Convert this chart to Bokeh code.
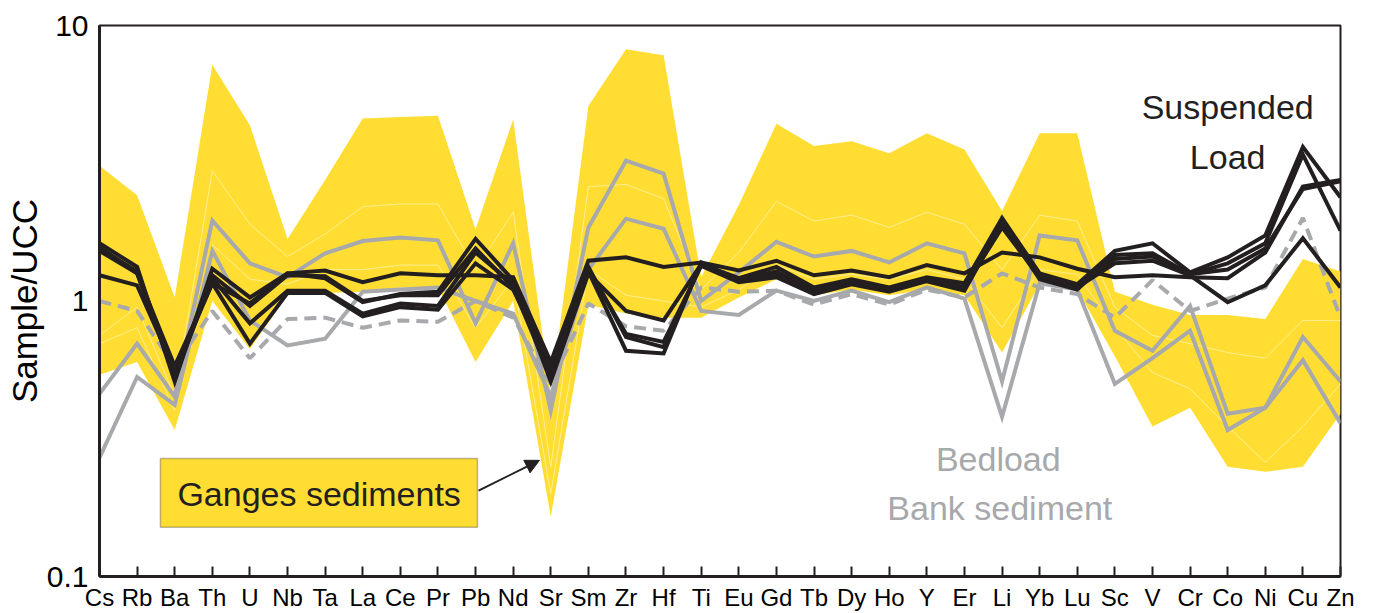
from bokeh.plotting import figure
from bokeh.models import FixedTicker, Label, BoxAnnotation, Arrow, NormalHead, Range1d
from bokeh.embed import file_html
from bokeh.resources import INLINE

elements = ["Cs", "Rb", "Ba", "Th", "U", "Nb", "Ta", "La", "Ce", "Pr", "Pb", "Nd", "Sr", "Sm",
            "Zr", "Hf", "Ti", "Eu", "Gd", "Tb", "Dy", "Ho", "Y", "Er", "Li", "Yb", "Lu", "Sc",
            "V", "Cr", "Co", "Ni", "Cu", "Zn"]

# Ganges sediments envelope (Sample/UCC)
ganges_max = [3.1, 2.42, 1.03, 7.2, 4.34, 1.68, 2.75, 4.6, 4.65, 4.7, 1.82, 4.56, 0.45, 5.1,
              8.2, 7.8, 1.22, 2.23, 4.4, 3.65, 3.8, 3.44, 4.06, 3.55, 2.12, 4.06, 4.06, 1.08,
              0.97, 0.89, 0.89, 0.86, 1.42, 1.28]
ganges_min = [0.54, 0.6, 0.34, 1.0, 0.67, 1.05, 1.07, 1.08, 1.12, 1.12, 0.6, 1.0, 0.165, 0.97,
              0.9, 0.87, 0.87, 1.03, 1.2, 1.05, 1.1, 1.05, 1.1, 1.05, 0.65, 1.15, 1.1, 0.63,
              0.35, 0.41, 0.25, 0.24, 0.25, 0.39]
ganges_inner_1 = [0.75, 0.95, 0.45, 2.97, 1.9, 1.45, 1.75, 2.2, 2.25, 2.25, 1.3, 2.1, 0.25, 2.6,
                  2.65, 2.35, 1.1, 1.5, 2.3, 1.95, 2.05, 1.85, 2.1, 1.9, 1.3, 2.05, 1.95, 0.95,
                  0.75, 0.7, 0.65, 0.62, 0.85, 0.85]
ganges_inner_2 = [0.7, 0.8, 0.4, 1.6, 1.2, 1.15, 1.3, 1.3, 1.35, 1.35, 0.8, 1.2, 0.2, 1.3,
                  1.05, 1.0, 0.95, 1.1, 1.35, 1.2, 1.25, 1.2, 1.3, 1.2, 0.8, 1.3, 1.25, 0.8,
                  0.55, 0.48, 0.35, 0.26, 0.35, 0.5]

# Suspended load (black)
suspended_1 = [1.24, 1.14, 0.56, 1.16, 0.98, 1.26, 1.29, 1.17, 1.26, 1.24, 1.24, 1.22, 0.60, 1.40,
               1.44, 1.33, 1.38, 1.29, 1.40, 1.24, 1.29, 1.22, 1.35, 1.26, 1.50, 1.44, 1.31, 1.22,
               1.24, 1.22, 1.21, 1.50, 2.60, 2.75]
suspended_2 = [1.62, 1.33, 0.51, 1.31, 1.03, 1.26, 1.21, 0.99, 1.06, 1.08, 1.68, 1.19, 0.51, 1.26,
               0.92, 0.85, 1.36, 1.21, 1.33, 1.12, 1.20, 1.12, 1.22, 1.16, 2.00, 1.26, 1.15, 1.52,
               1.62, 1.27, 1.44, 1.73, 3.62, 2.38]
suspended_3 = [1.57, 1.26, 0.53, 1.21, 0.83, 1.09, 1.09, 0.90, 0.98, 0.96, 1.50, 1.15, 0.55, 1.30,
               0.76, 0.71, 1.34, 1.17, 1.22, 1.06, 1.15, 1.08, 1.18, 1.09, 1.92, 1.20, 1.10, 1.47,
               1.49, 1.25, 1.37, 1.62, 3.40, 1.80]
suspended_4 = [1.52, 1.26, 0.58, 1.16, 0.70, 1.07, 1.07, 0.88, 0.95, 0.93, 1.37, 1.10, 0.58, 1.28,
               0.66, 0.645, 1.38, 1.19, 1.25, 1.08, 1.17, 1.10, 1.20, 1.12, 1.85, 1.22, 1.12, 1.37,
               1.40, 1.24, 0.99, 1.14, 1.69, 1.12]
suspended_5 = [1.55, 1.28, 0.54, 1.24, 0.96, 1.24, 1.23, 1.00, 1.05, 1.05, 1.55, 1.12, 0.53, 1.33,
               0.74, 0.68, 1.36, 1.20, 1.28, 1.10, 1.18, 1.10, 1.21, 1.12, 1.95, 1.24, 1.13, 1.42,
               1.45, 1.25, 1.30, 1.55, 2.55, 2.72]

# Bedload (grey solid)
bedload_1 = [0.46, 0.70, 0.45, 1.96, 1.37, 1.22, 1.49, 1.65, 1.70, 1.66, 0.83, 1.62, 0.40, 1.85,
             3.23, 2.90, 1.00, 1.27, 1.64, 1.45, 1.52, 1.38, 1.62, 1.49, 0.51, 1.73, 1.66, 0.78,
             0.66, 0.96, 0.39, 0.41, 0.74, 0.51]
bedload_2 = [0.27, 0.53, 0.42, 1.52, 0.85, 0.69, 0.73, 1.08, 1.10, 1.12, 1.00, 0.90, 0.45, 1.30,
             1.99, 1.83, 0.92, 0.89, 1.09, 1.00, 1.09, 0.99, 1.12, 1.02, 0.38, 1.16, 1.10, 0.50,
             0.62, 0.78, 0.34, 0.41, 0.61, 0.36]
# Bank sediment (grey dashed)
bank_sediment = [1.00, 0.92, 0.58, 0.92, 0.62, 0.86, 0.87, 0.80, 0.85, 0.84, 1.00, 0.87, 0.50, 0.98,
                 0.81, 0.78, 1.12, 1.08, 1.09, 0.97, 1.06, 0.97, 1.10, 1.03, 1.26, 1.12, 1.06, 0.87,
                 1.19, 0.92, 1.02, 1.12, 2.00, 0.87]

y_ticks = [0.1, 1, 10]
y_tick_labels = ["0.1", "1", "10"]

YELLOW = "#FFDD33"
BLACK = "#231F20"
GREY = "#A7A9AC"
FONT = "Liberation Sans"

idx = list(range(len(elements)))

p = figure(width=1376, height=613, y_axis_type="log",
           x_range=Range1d(0, len(elements) - 1), y_range=Range1d(0.1, 10),
           output_backend="svg", toolbar_location=None,
           min_border_left=99, min_border_right=36, min_border_top=25, min_border_bottom=0)

p.xgrid.visible = False
p.ygrid.visible = False
p.outline_line_color = BLACK
p.outline_line_width = 2
p.background_fill_color = "white"
p.border_fill_color = "white"

# band
p.varea(x=idx, y1=ganges_min, y2=ganges_max, fill_color=YELLOW, fill_alpha=1.0)
for s in (ganges_inner_1, ganges_inner_2):
    p.line(idx, s, line_color="#FFF2A8", line_width=1, line_alpha=0.8)

# bank sediment dashed
p.line(idx, bank_sediment, line_color=GREY, line_width=4, line_dash="12 7")
# bedload
for s in (bedload_1, bedload_2):
    p.line(idx, s, line_color=GREY, line_width=4, line_join="miter")
# suspended load
for s in (suspended_1, suspended_2, suspended_3, suspended_4, suspended_5):
    p.line(idx, s, line_color=BLACK, line_width=4, line_join="miter")

# axes
xa = p.xaxis[0]
xa.ticker = FixedTicker(ticks=idx)
xa.major_label_overrides = {i: e for i, e in zip(idx, elements)}
xa.major_tick_in = 10
xa.major_tick_out = 0
xa.major_tick_line_width = 2
xa.major_tick_line_color = BLACK
xa.minor_tick_line_color = None
xa.axis_line_width = 3
xa.axis_line_color = BLACK
xa.major_label_text_font = FONT
xa.major_label_text_font_size = "24px"
xa.major_label_text_color = "black"
xa.major_label_standoff = 7

ya = p.yaxis[0]
ya.ticker = FixedTicker(ticks=y_ticks)
ya.major_label_overrides = {t: l for t, l in zip(y_ticks, y_tick_labels)}
ya.major_tick_in = 0
ya.major_tick_out = 0
ya.minor_tick_line_color = None
ya.axis_line_width = 3
ya.axis_line_color = BLACK
ya.major_label_text_font = FONT
ya.major_label_text_font_size = "30px"
ya.major_label_text_color = "black"
ya.major_label_standoff = 11
ya.axis_label = "Sample/UCC"
ya.axis_label_text_font = FONT
ya.axis_label_text_font_size = "35px"
ya.axis_label_text_font_style = "normal"
ya.axis_label_text_color = "black"
ya.axis_label_standoff = 0

# annotations
p.add_layout(Label(x=30.0, y=5.04, text="Suspended", text_font=FONT, text_font_size="34px",
                   text_color=BLACK, text_align="center", text_baseline="middle"))
p.add_layout(Label(x=30.0, y=3.32, text="Load", text_font=FONT, text_font_size="34px",
                   text_color=BLACK, text_align="center", text_baseline="middle"))
p.add_layout(Label(x=23.9, y=0.268, text="Bedload", text_font=FONT, text_font_size="34px",
                   text_color=GREY, text_align="center", text_baseline="middle"))
p.add_layout(Label(x=23.94, y=0.178, text="Bank sediment", text_font=FONT, text_font_size="34px",
                   text_color=GREY, text_align="center", text_baseline="middle"))

p.add_layout(BoxAnnotation(left=1.62, right=10.05, bottom=0.151, top=0.268,
                           fill_color=YELLOW, fill_alpha=1.0, line_color=BLACK, line_width=1.5))
p.add_layout(Label(x=5.84, y=0.2, text="Ganges sediments", text_font=FONT, text_font_size="34px",
                   text_color=BLACK, text_align="center", text_baseline="middle"))
p.add_layout(Arrow(end=NormalHead(size=14, fill_color=BLACK, line_color=BLACK),
                   x_start=10.08, y_start=0.205, x_end=11.7, y_end=0.264,
                   line_color=BLACK, line_width=2))

open("out.html", "w").write(file_html(p, INLINE))
